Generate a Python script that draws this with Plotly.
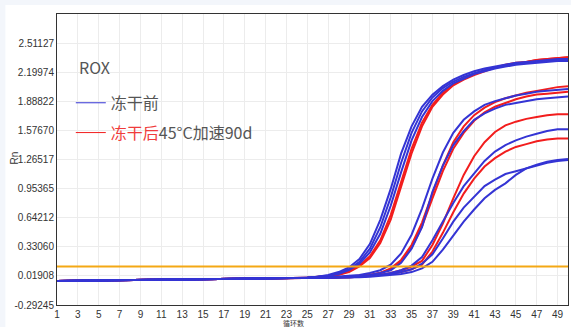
import plotly.graph_objects as go

cycles = list(range(1, 51))

# shared early baseline (cycles 1-24)
baseline = [-0.035, -0.033, -0.031, -0.029, -0.027, -0.026, -0.025, -0.024, -0.023, -0.022,
            -0.021, -0.020, -0.019, -0.018, -0.017, -0.016, -0.015, -0.014, -0.013, -0.012,
            -0.011, -0.010, -0.009, -0.008]

# cycles 25-50 of each curve
blue_tails = [
    [0.0, 0.01, 0.03, 0.06, 0.11, 0.20, 0.36, 0.62, 0.95, 1.33, 1.62, 1.83, 1.96, 2.05, 2.12, 2.17, 2.21, 2.24, 2.26, 2.28, 2.30, 2.31, 2.32, 2.33, 2.34, 2.34],
    [0.0, 0.01, 0.02, 0.05, 0.09, 0.17, 0.31, 0.54, 0.86, 1.23, 1.55, 1.78, 1.93, 2.03, 2.10, 2.15, 2.19, 2.22, 2.25, 2.27, 2.29, 2.30, 2.31, 2.32, 2.33, 2.33],
    [0.0, 0.01, 0.02, 0.04, 0.08, 0.15, 0.27, 0.47, 0.77, 1.13, 1.47, 1.72, 1.89, 2.00, 2.08, 2.13, 2.18, 2.21, 2.24, 2.26, 2.28, 2.29, 2.30, 2.31, 2.32, 2.32],
    [-0.005, 0.0, 0.005, 0.01, 0.02, 0.03, 0.05, 0.08, 0.14, 0.26, 0.46, 0.74, 1.06, 1.34, 1.55, 1.69, 1.78, 1.85, 1.89, 1.92, 1.95, 1.97, 1.99, 2.00, 2.01, 2.02],
    [-0.005, 0.0, 0.0, 0.005, 0.01, 0.02, 0.03, 0.05, 0.08, 0.16, 0.31, 0.54, 0.92, 1.20, 1.42, 1.57, 1.69, 1.76, 1.81, 1.85, 1.87, 1.89, 1.91, 1.92, 1.93, 1.94],
    [-0.005, -0.005, 0.0, 0.0, 0.005, 0.01, 0.02, 0.03, 0.05, 0.08, 0.13, 0.22, 0.40, 0.60, 0.80, 0.98, 1.12, 1.25, 1.35, 1.42, 1.47, 1.51, 1.54, 1.57, 1.59, 1.59],
    [-0.005, -0.005, 0.0, 0.0, 0.005, 0.01, 0.02, 0.03, 0.04, 0.06, 0.09, 0.15, 0.25, 0.42, 0.60, 0.75, 0.87, 0.98, 1.05, 1.11, 1.14, 1.17, 1.20, 1.23, 1.25, 1.26],
    [-0.005, -0.005, 0.0, 0.0, 0.0, 0.005, 0.01, 0.02, 0.03, 0.04, 0.06, 0.10, 0.17, 0.30, 0.45, 0.60, 0.73, 0.85, 0.94, 1.01, 1.10, 1.17, 1.21, 1.24, 1.26, 1.27],
]

red_tails = [
    [0.0, 0.01, 0.02, 0.03, 0.07, 0.13, 0.23, 0.40, 0.67, 1.02, 1.38, 1.66, 1.85, 1.98, 2.07, 2.13, 2.18, 2.22, 2.25, 2.28, 2.30, 2.31, 2.33, 2.34, 2.35, 2.36],
    [0.0, 0.0, 0.01, 0.03, 0.06, 0.12, 0.21, 0.37, 0.62, 0.97, 1.33, 1.62, 1.83, 1.96, 2.06, 2.12, 2.17, 2.21, 2.25, 2.27, 2.29, 2.31, 2.33, 2.34, 2.35, 2.36],
    [-0.005, 0.0, 0.0, 0.005, 0.01, 0.02, 0.03, 0.05, 0.10, 0.19, 0.35, 0.59, 0.90, 1.20, 1.45, 1.62, 1.74, 1.82, 1.88, 1.92, 1.95, 1.98, 2.00, 2.02, 2.04, 2.05],
    [-0.005, 0.0, 0.0, 0.005, 0.01, 0.02, 0.03, 0.05, 0.09, 0.17, 0.32, 0.55, 0.85, 1.14, 1.38, 1.55, 1.68, 1.77, 1.83, 1.87, 1.91, 1.94, 1.96, 1.97, 1.98, 1.99],
    [-0.005, -0.005, 0.0, 0.0, 0.005, 0.01, 0.02, 0.03, 0.05, 0.08, 0.12, 0.18, 0.35, 0.58, 0.85, 1.10, 1.30, 1.45, 1.56, 1.63, 1.67, 1.70, 1.72, 1.74, 1.75, 1.75],
    [-0.005, -0.005, 0.0, 0.0, 0.005, 0.01, 0.02, 0.03, 0.04, 0.06, 0.09, 0.14, 0.28, 0.48, 0.70, 0.90, 1.06, 1.19, 1.28, 1.35, 1.40, 1.43, 1.46, 1.48, 1.49, 1.49],
]

threshold = 0.12

ytick_vals = [-0.29245, 0.01908, 0.33060, 0.64212, 0.95365, 1.26517, 1.57670, 1.88822, 2.19974, 2.51127]
ytick_text = ["-0.29245", "0.01908", "0.33060", "0.64212", "0.95365", "1.26517", "1.57670", "1.88822", "2.19974", "2.51127"]
y_range = [-0.29245, 2.82280]
xtick_vals = list(range(1, 50, 2))
x_range = [1, 50]

BLUE = "#3434d4"
RED = "#f21d1d"
ORANGE = "#f4a814"
LEG_FONT = "Noto Sans CJK SC, Noto Sans"

fig = go.Figure()

for tail in red_tails:
    fig.add_trace(go.Scatter(x=cycles, y=baseline + tail, mode="lines",
                             line=dict(color=RED, width=2), showlegend=False, hoverinfo="skip"))
for tail in blue_tails:
    fig.add_trace(go.Scatter(x=cycles, y=baseline + tail, mode="lines",
                             line=dict(color=BLUE, width=2), showlegend=False, hoverinfo="skip"))

fig.add_trace(go.Scatter(x=x_range, y=[threshold, threshold], mode="lines",
                         line=dict(color=ORANGE, width=2), showlegend=False, hoverinfo="skip"))

# legend entries
fig.add_trace(go.Scatter(x=[None], y=[None], mode="lines", line=dict(color=BLUE, width=1),
                         name="冻干前", legendgroup="a"))
fig.add_trace(go.Scatter(x=[None], y=[None], mode="lines", line=dict(color=RED, width=1),
                         name="<span style='color:#f03c3c'>冻干后</span>45°C加速90d", legendgroup="b"))

fig.update_layout(
    width=571, height=327,
    margin=dict(l=57, r=3, t=14, b=22),
    paper_bgcolor="#f3f6fb",
    plot_bgcolor="white",
    legend=dict(x=0.027, y=0.753, xanchor="left", yanchor="top",
                bgcolor="rgba(0,0,0,0)",
                font=dict(family=LEG_FONT, size=16, color="#555555"),
                tracegroupgap=6, itemwidth=30),
    shapes=[dict(type="rect", xref="paper", yref="paper", x0=-0.101, x1=1.01, y0=-0.08, y1=1.031,
                 fillcolor="white", line=dict(width=0), layer="below")],
    annotations=[
        dict(text="ROX", xref="paper", yref="paper", x=0.039, y=0.818, xanchor="left", yanchor="middle",
             showarrow=False, font=dict(family=LEG_FONT, size=16, color="#555555")),
        dict(text="Rn", xref="paper", yref="paper", x=-0.098, y=0.505, showarrow=False,
             textangle=-90, font=dict(family="Liberation Sans, Arial", size=10, color="#333")),
        dict(text="循环数", xref="paper", yref="paper", x=0.462, y=-0.061, yanchor="middle", showarrow=False,
             font=dict(family="Noto Sans CJK SC", size=7, color="#333")),
    ],
)

fig.update_xaxes(range=x_range, tickvals=xtick_vals, ticks="", showgrid=True, gridcolor="#ececec",
                 gridwidth=1, zeroline=False, showline=True, linecolor="#333", linewidth=1, mirror=True,
                 tickfont=dict(family="Liberation Sans, Arial", size=10, color="#333"))
fig.update_yaxes(range=y_range, tickvals=ytick_vals, ticktext=ytick_text, ticks="", showgrid=True,
                 gridcolor="#ececec", gridwidth=1, zeroline=False, showline=True, linecolor="#333",
                 linewidth=1, mirror=True,
                 tickfont=dict(family="Liberation Sans, Arial", size=10, color="#333"))

fig.write_html("out.html")
